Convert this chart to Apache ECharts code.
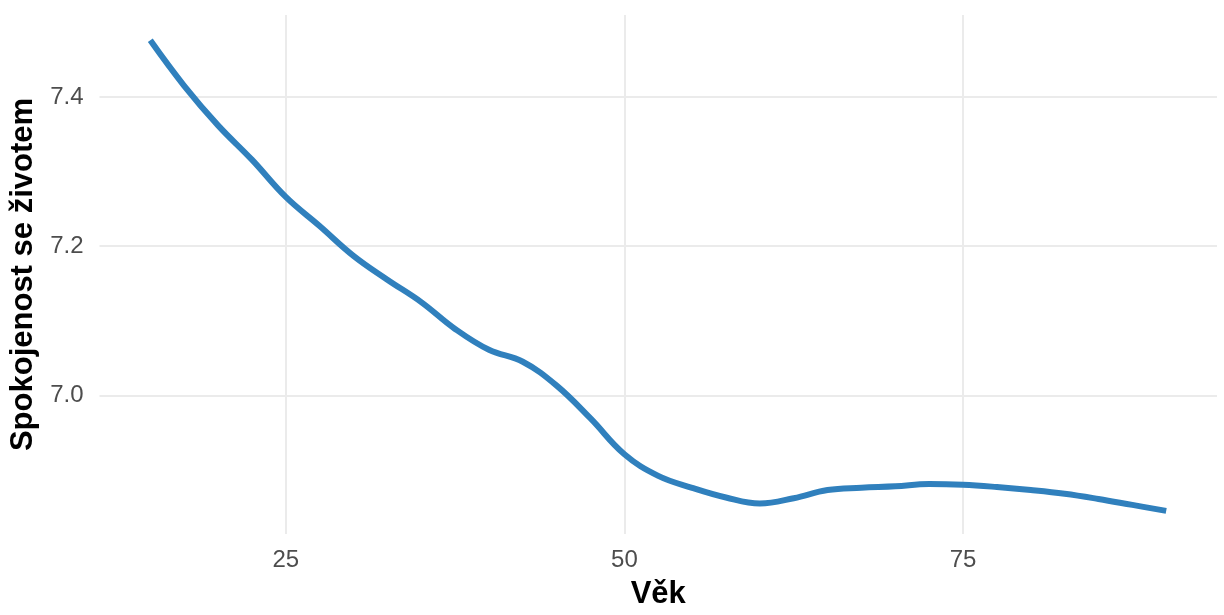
<!DOCTYPE html>
<html>
<head>
<meta charset="utf-8">
<script src="https://cdn.jsdelivr.net/npm/echarts@6/dist/echarts.min.js"></script>
<style>html,body{margin:0;padding:0;background:#fff;}#c{width:1224px;height:615px;}</style>
</head>
<body>
<div id="c"></div>
<script>
const ages = [15, 17.5, 20, 22.5, 25, 27.5, 30, 32.5, 35, 37.5, 40, 42.5, 45, 47.5, 50, 52.5, 55, 57.5, 60, 62.5, 65, 67.5, 70, 72.5, 75, 77.5, 80, 82.5, 85, 87.5, 90];
const satisfaction = [7.476, 7.415, 7.362, 7.316, 7.266, 7.227, 7.187, 7.155, 7.125, 7.089, 7.061, 7.045, 7.013, 6.969, 6.921, 6.892, 6.876, 6.863, 6.855, 6.862, 6.873, 6.876, 6.878, 6.881, 6.880, 6.877, 6.873, 6.868, 6.861, 6.853, 6.845];
const xTicks = [25, 50, 75];
const yTicks = [7.0, 7.2, 7.4];
const xLimits = [11.25, 93.75];
const yLimits = [6.814, 7.510];
const xTitle = 'Věk';
const yTitle = 'Spokojenost se životem';

const chart = echarts.init(document.getElementById('c'), null, {renderer: 'canvas'});
const font = 'Liberation Sans, Arial, sans-serif';
chart.setOption({
  animation: false,
  grid: {left: 99.5, right: 7, top: 15, bottom: 72, containLabel: false},
  xAxis: {
    type: 'value', min: xLimits[0], max: xLimits[1],
    axisLine: {show: false},
    axisTick: {show: false, customValues: xTicks},
    axisLabel: {customValues: xTicks, color: '#4d4d4d', fontSize: 24, fontFamily: font, margin: 14},
    splitLine: {show: true, lineStyle: {color: '#ebebeb', width: 2}},
    name: xTitle, nameLocation: 'middle', nameGap: 45,
    nameTextStyle: {color: '#000', fontSize: 31, fontWeight: 'bold', fontFamily: font}
  },
  yAxis: {
    type: 'value', min: yLimits[0], max: yLimits[1],
    axisLine: {show: false},
    axisTick: {show: false, customValues: yTicks},
    axisLabel: {customValues: yTicks, color: '#4d4d4d', fontSize: 24, fontFamily: font, margin: 16,
      formatter: v => v.toFixed(1)},
    splitLine: {show: true, lineStyle: {color: '#ebebeb', width: 2}},
    name: yTitle, nameLocation: 'middle', nameGap: 58,
    nameTextStyle: {color: '#000', fontSize: 31, fontWeight: 'bold', fontFamily: font}
  },
  series: [{
    type: 'line',
    data: ages.map((a, i) => [a, satisfaction[i]]),
    smooth: 0.4,
    showSymbol: false,
    lineStyle: {color: '#3080bd', width: 6},
    itemStyle: {color: '#3080bd'}
  }]
});
</script>
</body>
</html>
